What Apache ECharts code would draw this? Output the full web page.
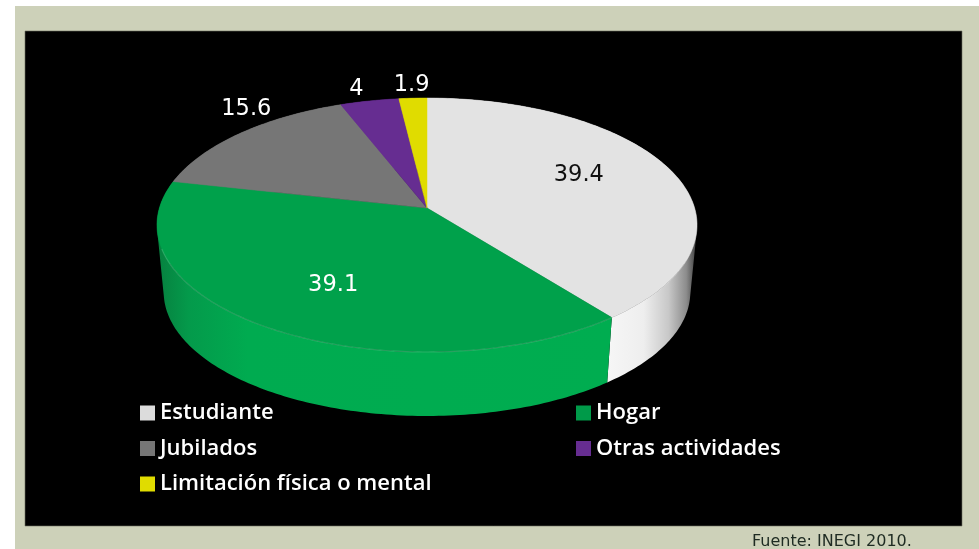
<!DOCTYPE html>
<html><head><meta charset="utf-8">
<style>html,body{margin:0;padding:0;background:#fff}#c{width:979px;height:549px}</style>
<script src="https://cdn.jsdelivr.net/npm/echarts@6/dist/echarts.min.js"></script>
</head><body><div id="c"></div>
<script>
const categories = ['Estudiante','Hogar','Jubilados','Otras actividades','Limitación física o mental'];
const values = [39.4,39.1,15.6,4,1.9];
const labels = ['39.4','39.1','15.6','4','1.9'];

const topColors = ['#e3e3e3','#00a14b','#767676','#662d91','#e0dc00'];
const legendColors = ['#dcdcdc','#009a49','#767676','#662d91','#e0dc00'];
const labelColors = ['#111111','#ffffff','#ffffff','#ffffff','#ffffff'];
const labelOffsets = [[4,-9],[-2,9],[23,-17],[-8,-2],[0,-3]];
const labelRadius = [0.6,0.6,1.1,1.1,1.1];

// perspective disc geometry
const CX=427, CY=208, RX=267.6, RY=124.7, K=-0.134, DROP=67.6, SCALE=0.975;
function project(theta, r){
  const u=Math.sin(theta)*r, v=-Math.cos(theta)*r, w=1+K*v;
  return [CX+RX*u/w, CY+RY*v/w];
}
function lower(p){ return [CX+SCALE*(p[0]-CX), CY+DROP+SCALE*(p[1]-CY)]; }
function arc(a,b){
  const n=Math.max(2,Math.ceil((b-a)/(Math.PI/180))), pts=[];
  for(let i=0;i<=n;i++) pts.push(project(a+(b-a)*i/n,1));
  return pts;
}
function area(q){
  let s=0;
  for(let i=0;i<q.length;i++){const p=q[i],n=q[(i+1)%q.length]; s+=p[0]*n[1]-n[0]*p[1];}
  return s;
}
// the wall is swept from the upper rim to the lower rim: one compound path of same-wound quads
function wallPath(rim){
  let d='';
  for(let i=0;i<rim.length-1;i++){
    let q=[rim[i],rim[i+1],lower(rim[i+1]),lower(rim[i])];
    if(area(q)<0) q=q.reverse();
    d+='M'+q.map(p=>p[0].toFixed(2)+' '+p[1].toFixed(2)).join('L')+'Z';
  }
  return d;
}
const total = values.reduce((s,v)=>s+v,0);
let running=0;
const spans = values.map(v=>{const s=running; running+=v; return [s,running,v];});

const wallFills = {
  0:{type:'linear',x:608,y:0,x2:697,y2:0,global:true,colorStops:[
    {offset:0,color:'#f6f6f6'},{offset:0.4,color:'#eeeeee'},{offset:0.68,color:'#c8c8c8'},{offset:0.88,color:'#8c8c8c'},{offset:1,color:'#3c3c3c'}]},
  1:{type:'linear',x:157,y:0,x2:612,y2:0,global:true,colorStops:[
    {offset:0,color:'#07803f'},{offset:0.07,color:'#049a4b'},{offset:0.2,color:'#00ab50'},{offset:1,color:'#00ad50'}]}
};

function renderSlice(idx){
  return function(params,api){
    const a=api.value(0)/total*2*Math.PI, b=api.value(1)/total*2*Math.PI;
    const rim=arc(a,b);
    const children=[];
    const wallFill=wallFills[idx]||topColors[idx];
    children.push({type:'path',z2:1,shape:{pathData:wallPath(rim)},style:{fill:wallFill}});
    children.push({type:'polygon',z2:3,shape:{points:[[CX,CY]].concat(rim)},
      style:{fill:topColors[idx],stroke:topColors[idx],lineWidth:0.5}});
    if(wallFills[idx]){
      const front=rim.filter(p=>p[1]>CY+40);
      children.push({type:'polyline',z2:4,shape:{points:front},
        style:{fill:null,stroke:'rgba(255,255,255,0.16)',lineWidth:1.2}});
    }
    const mid=(a+b)/2, p=project(mid,labelRadius[idx]), off=labelOffsets[idx];
    children.push({type:'text',z2:6,x:p[0]+off[0],y:p[1]+off[1],
      style:{text:labels[idx],fill:labelColors[idx],font:'22.5px "DejaVu Sans"',align:'center',verticalAlign:'middle'}});
    return {type:'group',children:children};
  };
}

const legendText={color:'#ffffff',fontFamily:'Open Sans',fontWeight:600,fontSize:22};
const legendBase={orient:'vertical',icon:'rect',itemWidth:15,itemHeight:15,itemGap:13.5,selectedMode:false,textStyle:legendText};
const option={
  animation:false,
  backgroundColor:'#ffffff',
  title:{text:'Fuente: INEGI 2010.',left:752,top:534,textStyle:{color:'#1e2b22',fontFamily:'DejaVu Sans',fontWeight:'normal',fontSize:16,lineHeight:16},padding:0},
  graphic:[
    {type:'rect',z:-10,shape:{x:15,y:6,width:964,height:543},style:{fill:'#cdd1b9'}},
    {type:'rect',z:-9,shape:{x:25,y:31,width:937,height:495},style:{fill:'#000000',stroke:'#6d6f5e',lineWidth:0.6}}
  ],
  legend:[
    Object.assign({left:135,top:397,data:[categories[0],categories[2],categories[4]]},legendBase),
    Object.assign({left:571,top:397,data:[categories[1],categories[3]]},legendBase)
  ],
  series:categories.map((name,i)=>({
    type:'custom',name:name,coordinateSystem:'none',silent:true,
    itemStyle:{color:legendColors[i]},
    renderItem:renderSlice(i),
    data:[spans[i]],
    encode:{}
  }))
};
const chart=echarts.init(document.getElementById('c'),null,{renderer:'canvas'});
chart.setOption(option);
</script></body></html>
